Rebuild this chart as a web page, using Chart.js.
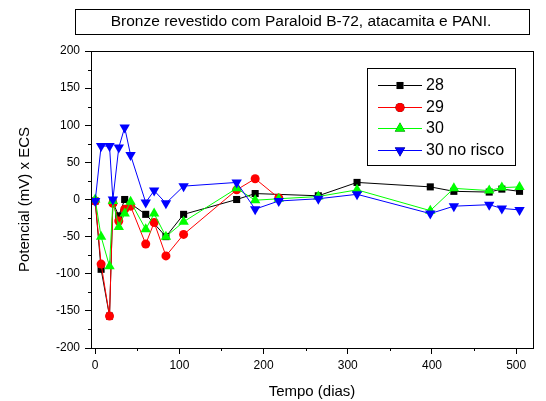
<!DOCTYPE html>
<html>
<head>
<meta charset="utf-8">
<script src="https://cdn.jsdelivr.net/npm/chart.js@4.4.1/dist/chart.umd.min.js"></script>
<style>
  html, body { margin: 0; padding: 0; background: #fff; }
  #wrap { width: 546px; height: 401px; }
</style>
</head>
<body>
<div id="wrap"><canvas id="chart1" width="546" height="401"></canvas></div>
<script>
(function () {
  // ====== dados ======
  const days28 = [0, 7, 17, 21, 28, 35, 60, 84, 105, 168, 190, 265, 311, 398, 426, 468, 483, 504];
  const vals28 = [-2, -94, -157, -4, -22, 0, -20, -50, -20, 0, 8, 5, 23, 17, 11, 10, 14, 11];

  const days29 = [0, 7, 17, 21, 28, 35, 42, 60, 70, 84, 105, 168, 190, 218];
  const vals29 = [-2, -87, -157, -5, -29, -13, -9, -60, -31, -76, -47, 13, 28, 2];

  const days30 = [0, 7, 17, 21, 28, 35, 42, 60, 70, 84, 105, 168, 190, 218, 265, 311, 398, 426, 468, 483, 504];
  const vals30 = [0, -50, -90, -2, -37, -19, -3, -40, -19, -50, -30, 15, -1, 1, 4, 13, -15, 15, 12, 16, 17];

  const days30r = [0, 7, 17, 21, 28, 35, 42, 60, 70, 84, 105, 168, 190, 218, 265, 311, 398, 426, 468, 483, 504];
  const vals30r = [-2, 72, 72, 0, 70, 97, 60, -4, 12, -5, 18, 23, -13, -2, 1, 7, -19, -9, -7, -12, -14];

  const seriesNames = ['28', '29', '30', '30 no risco'];
  const xTicks = [0, 100, 200, 300, 400, 500];
  const xMinor = [50, 150, 250, 350, 450];
  const yTicks = [-200, -150, -100, -50, 0, 50, 100, 150, 200];
  const yMinor = [-175, -125, -75, -25, 25, 75, 125, 175];

  const titleText = 'Bronze revestido com Paraloid B-72, atacamita e PANI.';
  const FONT = '"Liberation Sans", Arial, sans-serif';

  const pts = (d, v) => d.map((x, i) => ({ x, y: v[i] }));

  const styles = [
    { color: '#000000', style: 'rect', radius: 5, rotation: 0 },
    { color: '#ff0000', style: 'circle', radius: 4.5, rotation: 0 },
    { color: '#00ff00', style: 'triangle', radius: 6, rotation: 0 },
    { color: '#0000ff', style: 'triangle', radius: 6, rotation: 180 }
  ];
  const allData = [pts(days28, vals28), pts(days29, vals29), pts(days30, vals30), pts(days30r, vals30r)];

  // azul por cima: no Chart.js o dataset de índice 0 é desenhado por último
  const datasets = [3, 2, 1, 0].map(i => ({
    label: seriesNames[i],
    data: allData[i],
    borderColor: styles[i].color,
    backgroundColor: styles[i].color,
    borderWidth: 1,
    tension: 0,
    pointStyle: styles[i].style,
    pointRotation: styles[i].rotation,
    pointRadius: styles[i].radius,
    pointHoverRadius: styles[i].radius,
    pointBackgroundColor: styles[i].color,
    pointBorderColor: styles[i].color,
    pointBorderWidth: 0
  }));

  // ====== moldura, ticks menores, título e legenda ======
  const decor = {
    id: 'decor',
    afterDraw(chart) {
      const { ctx, chartArea: a, scales } = chart;
      ctx.save();
      ctx.strokeStyle = '#000';
      ctx.lineWidth = 1;
      // moldura
      ctx.strokeRect(Math.round(a.left) + 0.5, Math.round(a.top) + 0.5,
        Math.round(a.right - a.left), Math.round(a.bottom - a.top));
      // ticks menores
      ctx.beginPath();
      yMinor.forEach(v => {
        const y = Math.round(scales.y.getPixelForValue(v)) + 0.5;
        ctx.moveTo(a.left - 3, y); ctx.lineTo(a.left, y);
      });
      xMinor.forEach(v => {
        const x = Math.round(scales.x.getPixelForValue(v)) + 0.5;
        ctx.moveTo(x, a.bottom); ctx.lineTo(x, a.bottom + 3);
      });
      ctx.stroke();

      // caixa do título
      const tl = 75, tr = 529;
      ctx.fillStyle = '#fff';
      ctx.fillRect(tl, 9, tr - tl, 25);
      ctx.strokeRect(tl + 0.5, 9.5, tr - tl, 25);
      ctx.fillStyle = '#000';
      ctx.font = '15.5px ' + FONT;
      ctx.textAlign = 'center';
      ctx.textBaseline = 'middle';
      ctx.fillText(titleText, 301, 22);

      // legenda
      const lx = 367, ly = 68, lw = 148, lh = 97;
      ctx.fillStyle = '#fff';
      ctx.fillRect(lx, ly, lw, lh);
      ctx.strokeRect(lx + 0.5, ly + 0.5, lw, lh);
      ctx.font = '16px ' + FONT;
      ctx.textAlign = 'left';
      const rows = [85, 106.5, 128, 149.5];
      styles.forEach((s, i) => {
        const y = rows[i];
        ctx.strokeStyle = s.color;
        ctx.beginPath();
        ctx.moveTo(378, Math.round(y) + 0.5);
        ctx.lineTo(422, Math.round(y) + 0.5);
        ctx.stroke();
        Chart.helpers.drawPoint(ctx, {
          pointStyle: s.style, rotation: s.rotation, radius: s.radius, borderWidth: 0
        }, 400, Math.round(y) + 0.5);
        ctx.fillStyle = s.color;
        ctx.fill();
        ctx.fillStyle = '#000';
        ctx.fillText(seriesNames[i], 426, y + 1);
      });
      ctx.restore();
    }
  };

  const axisFont = { family: FONT, size: 12 };

  new Chart(document.getElementById('chart1'), {
    type: 'line',
    data: { datasets },
    options: {
      responsive: false,
      animation: false,
      devicePixelRatio: 1,
      layout: { padding: { top: 51, right: 13, left: 0, bottom: 0 } },
      plugins: { legend: { display: false }, tooltip: { enabled: false } },
      scales: {
        x: {
          type: 'linear',
          min: -5,
          max: 520,
          afterBuildTicks: s => { s.ticks = xTicks.map(v => ({ value: v })); },
          afterFit: s => { s.height = 53; },
          grid: { drawOnChartArea: false, drawTicks: true, tickLength: 6, color: '#000' },
          border: { color: '#000', width: 1 },
          ticks: { color: '#000', font: axisFont, padding: 4, maxRotation: 0 },
          title: {
            display: true, text: 'Tempo (dias)', color: '#000',
            font: { family: FONT, size: 15 }, padding: { top: 5, bottom: 0 }
          }
        },
        y: {
          type: 'linear',
          min: -200,
          max: 200,
          afterBuildTicks: s => { s.ticks = yTicks.map(v => ({ value: v })); },
          afterFit: s => { s.width = 91; },
          grid: { drawOnChartArea: false, drawTicks: true, tickLength: 6, color: '#000' },
          border: { color: '#000', width: 1 },
          ticks: { color: '#000', font: axisFont, padding: 5 },
          title: {
            display: true, text: 'Potencial (mV) x ECS', color: '#000',
            font: { family: FONT, size: 15 }, padding: { top: 16, bottom: 0 }
          }
        }
      }
    },
    plugins: [decor]
  });
})();
</script>
</body>
</html>
